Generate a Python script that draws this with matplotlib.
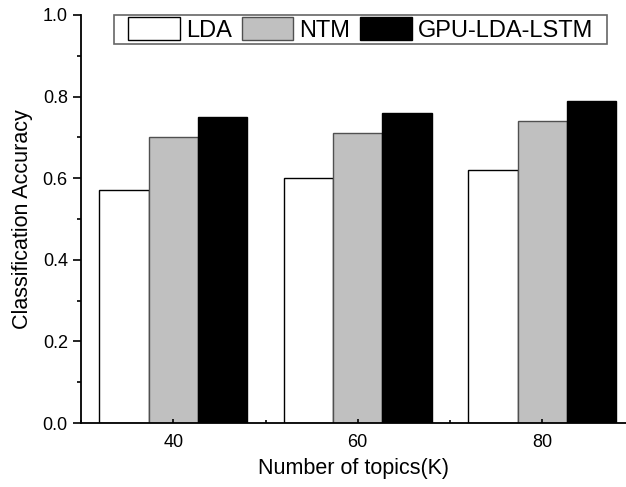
import numpy as np
import matplotlib
matplotlib.use("Agg")
import matplotlib.pyplot as plt
from matplotlib.ticker import MultipleLocator
from matplotlib.path import Path

plt.rcParams['font.family'] = ['Liberation Sans', 'DejaVu Sans']

topics = [40, 60, 80]
lda = [0.57, 0.60, 0.62]
ntm = [0.70, 0.71, 0.74]
gpu = [0.75, 0.76, 0.79]
labels = ["LDA", "NTM", "GPU-LDA-LSTM"]

fig = plt.figure(figsize=(6.26, 4.87), dpi=100)
ax = fig.add_axes([81/626, 1 - 423/487, 1 - 81/626, (423 - 15)/487])

x = np.array(topics, dtype=float)
w = 5.33
b1 = ax.bar(x - w, lda, w, color="white", edgecolor="black", linewidth=1.0)
b2 = ax.bar(x, ntm, w, color="#c0c0c0", edgecolor="#505050", linewidth=1.0)
b3 = ax.bar(x + w, gpu, w, color="black", edgecolor="black", linewidth=1.0)

ax.set_xlim(30, 30 + (626 - 81) / 9.225)
ax.set_ylim(0, 1.0)
ax.set_xticks(topics)
ax.xaxis.set_minor_locator(MultipleLocator(10))
ax.yaxis.set_major_locator(MultipleLocator(0.2))
ax.yaxis.set_minor_locator(MultipleLocator(0.1))
ax.yaxis.set_major_formatter(matplotlib.ticker.FormatStrFormatter('%.1f'))

ax.spines['top'].set_visible(False)
ax.spines['right'].set_visible(False)
ax.spines['left'].set_linewidth(1.3)
ax.spines['bottom'].set_linewidth(1.3)

ax.tick_params(axis='y', which='major', direction='out', length=6, width=1.2, labelsize=13, pad=3.5)
ax.tick_params(axis='y', which='minor', direction='out', length=3, width=1.2)
ax.tick_params(axis='x', which='major', direction='in', length=3, width=1.2, labelsize=13, pad=8)
ax.tick_params(axis='x', which='minor', direction='in', length=2, width=1.2)

ax.set_xlabel("Number of topics(K)", fontsize=15.5, labelpad=5)
ax.set_ylabel("Classification Accuracy", fontsize=15.5, labelpad=7)


# legend frame with extra room left and right only
def wide_box(x0, y0, width, height, mutation_size):
    px = 12
    return Path([(x0 - px, y0), (x0 + width + px, y0),
                 (x0 + width + px, y0 + height), (x0 - px, y0 + height),
                 (x0 - px, y0)], closed=True)


leg = fig.legend([b1, b2, b3], labels, loc='upper left',
                 bbox_to_anchor=(126/626, 1 - 15/487), ncol=3, fontsize=17,
                 frameon=True, fancybox=False, edgecolor="#404040",
                 handlelength=2.2, handleheight=1.1, handletextpad=0.25,
                 columnspacing=0.4, borderpad=0.1, borderaxespad=0)
leg.get_frame().set_linewidth(1.2)
leg.get_frame().set_boxstyle(wide_box)

fig.savefig("out.png", dpi=100)
